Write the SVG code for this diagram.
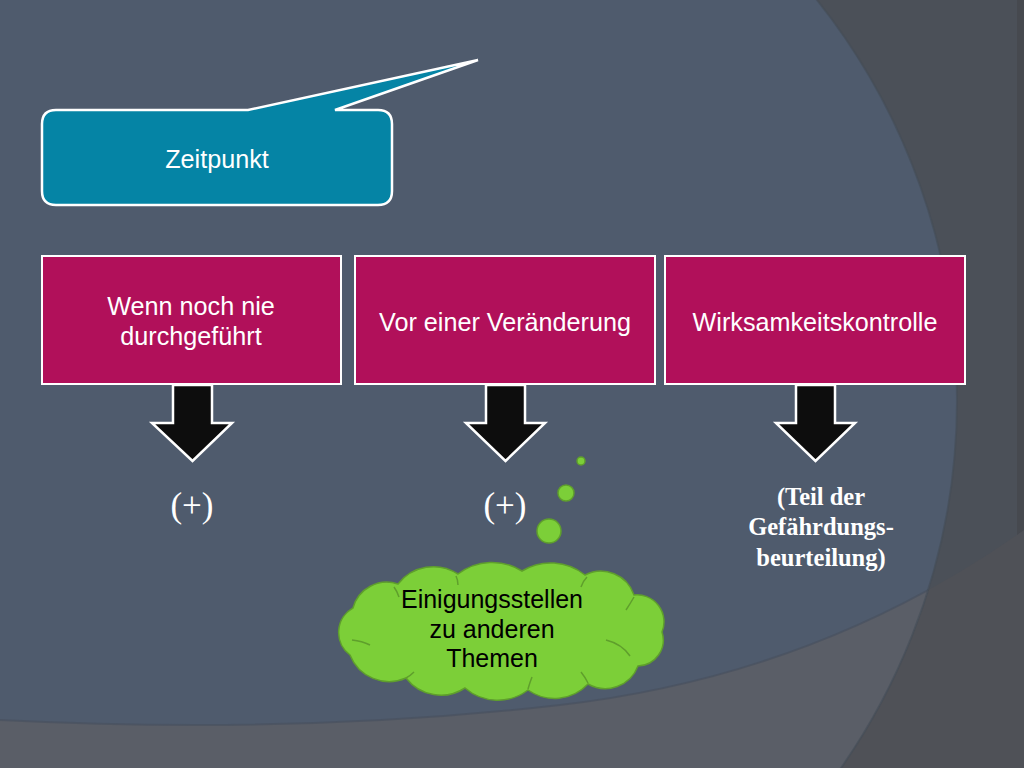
<svg xmlns="http://www.w3.org/2000/svg" width="1024" height="768" viewBox="0 0 1024 768">
<defs>
<style>
.box{fill:#b1105a;stroke:#ffffff;stroke-width:2}
.boxtxt{font-family:"Liberation Sans",Arial,sans-serif;font-size:25.2px;fill:#ffffff;text-anchor:middle}
.arrow{fill:#0d0d0d;stroke:#ffffff;stroke-width:2.5;stroke-linejoin:miter}
.res{font-family:"Liberation Serif","Times New Roman",serif;fill:#ffffff;text-anchor:middle}
.cloudtxt{font-family:"Liberation Sans",Arial,sans-serif;font-size:25px;fill:#000000;text-anchor:middle}
.bubble{fill:#7ccf38;stroke:#5f9f2c;stroke-width:1.5}
.curl{fill:none;stroke:#5f9f2c;stroke-width:1.5}
</style>
<clipPath id="circleClip"><circle cx="316" cy="400" r="641"/></clipPath>
</defs>

<g id="background">
<rect x="0" y="0" width="1024" height="768" fill="#4b5058"/>
<rect x="1017" y="0" width="7" height="768" fill="#46494f"/>
<path d="M0,720 Q300,735 560,705 T1024,530 L1024,768 L0,768 Z" fill="#4f5157"/>
<g clip-path="url(#circleClip)">
<rect x="0" y="0" width="1024" height="768" fill="#4f5b6d"/>
<path d="M0,720 Q300,735 560,705 T1024,530 L1024,768 L0,768 Z" fill="#5a5e67"/>
<path d="M0,720 Q300,735 560,705 T1024,530" fill="none" stroke="#48515f" stroke-width="2" opacity="0.7"/>
</g>
<circle cx="316" cy="400" r="641" fill="none" stroke="#454c56" stroke-width="2" opacity="0.6"/>
</g>

<g id="callout-zeitpunkt">
<path d="M56,110 L248,110 L478,60 L335,110 L378,110 Q392,110 392,124 L392,191 Q392,205 378,205 L56,205 Q42,205 42,191 L42,124 Q42,110 56,110 Z" fill="#0584a5" stroke="#ffffff" stroke-width="2.5" stroke-linejoin="miter"/>
<text class="boxtxt" x="217" y="168">Zeitpunkt</text>
</g>

<g id="box-wenn">
<rect class="box" x="42" y="256" width="299" height="128"/>
<text class="boxtxt" x="191" y="315">Wenn noch nie</text>
<text class="boxtxt" x="191" y="345">durchgeführt</text>
</g>

<g id="box-vor">
<rect class="box" x="355" y="256" width="300" height="128"/>
<text class="boxtxt" x="505" y="331">Vor einer Veränderung</text>
</g>

<g id="box-wirksamkeit">
<rect class="box" x="665" y="256" width="300" height="128"/>
<text class="boxtxt" x="815" y="331">Wirksamkeitskontrolle</text>
</g>

<g id="connectors">
<polygon class="arrow" points="173,385 212,385 212,423 232,423 192.5,461 152,423 173,423"/>
<polygon class="arrow" points="486,385 525,385 525,423 545,423 505.5,461 466,423 486,423"/>
<polygon class="arrow" points="796,385 835,385 835,423 855,423 815.5,461 776,423 796,423"/>
</g>

<g id="result-1">
<text class="res" x="192" y="517" font-size="35">(+)</text>
</g>
<g id="result-2">
<text class="res" x="505" y="517" font-size="35">(+)</text>
</g>
<g id="result-3">
<text class="res" x="821" y="505" font-size="24.5" font-weight="bold">(Teil der</text>
<text class="res" x="821" y="535" font-size="24.5" font-weight="bold">Gefährdungs-</text>
<text class="res" x="821" y="566" font-size="24.5" font-weight="bold">beurteilung)</text>
</g>

<g id="thought-cloud">
<circle class="bubble" cx="581" cy="461" r="4"/>
<circle class="bubble" cx="566" cy="493" r="8"/>
<circle class="bubble" cx="549" cy="531" r="12"/>
<path class="bubble" d="M350,655 A28,28 0 0 1 353,608 A35,35 0 0 1 398,584 A45,45 0 0 1 458,574 A56,56 0 0 1 522,571 A55,55 0 0 1 585,575 A35,35 0 0 1 634,595 A27,27 0 0 1 662,632 A26,26 0 0 1 638,666 A35,35 0 0 1 588,684 A46,46 0 0 1 528,690 A50,50 0 0 1 465,688 A44,44 0 0 1 406,678 A42,42 0 0 1 350,655 Z"/>
<path class="curl" d="M394,587 Q397,591 399,597"/>
<path class="curl" d="M456,576 Q458,580 458,585"/>
<path class="curl" d="M587,577 Q583,581 581,587"/>
<path class="curl" d="M634,597 Q630,604 626,610"/>
<path class="curl" d="M606,640 Q622,644 630,656"/>
<path class="curl" d="M588,683 Q585,677 581,672"/>
<path class="curl" d="M528,689 Q530,682 532,677"/>
<path class="curl" d="M414,672 Q410,676 406,678"/>
<path class="curl" d="M352,640 Q362,641 370,645"/>
<text class="cloudtxt" x="492" y="608">Einigungsstellen</text>
<text class="cloudtxt" x="492" y="638">zu anderen</text>
<text class="cloudtxt" x="492" y="667">Themen</text>
</g>
</svg>
